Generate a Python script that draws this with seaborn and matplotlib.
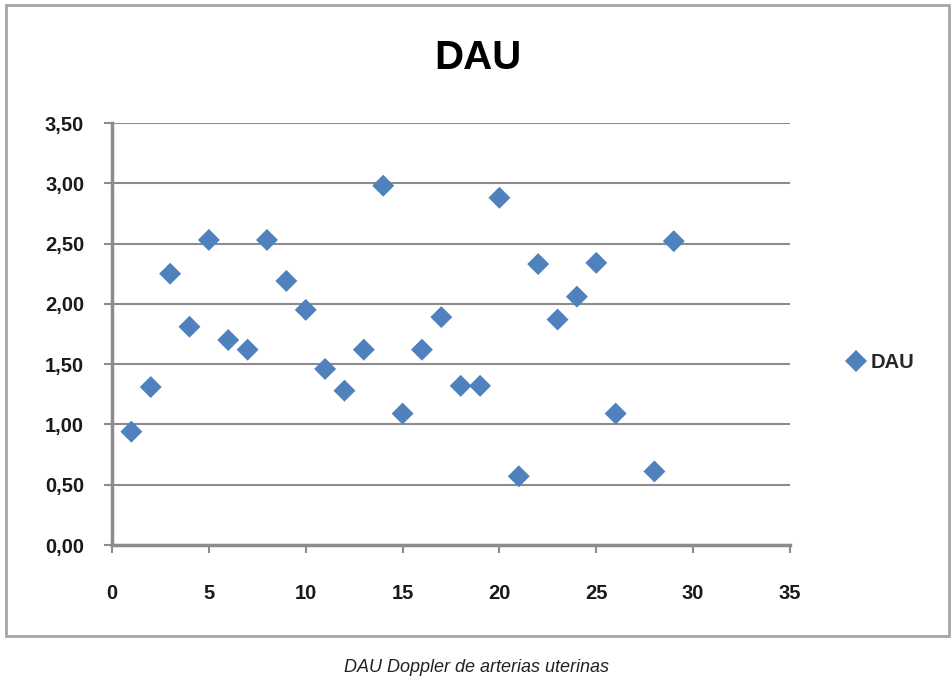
import matplotlib
matplotlib.use("Agg")
import matplotlib.pyplot as plt
import seaborn as sns
import pandas as pd
from matplotlib.patches import Rectangle
from matplotlib.ticker import FuncFormatter

# Data
x_vals = [1, 2, 3, 4, 5, 6, 7, 8, 9, 10, 11, 12, 13, 14, 15, 16, 17, 18, 19,
          20, 21, 22, 23, 24, 25, 26, 28, 29]
dau_vals = [0.94, 1.31, 2.25, 1.81, 2.53, 1.70, 1.62, 2.53, 2.19, 1.95, 1.46,
            1.28, 1.62, 2.98, 1.09, 1.62, 1.89, 1.32, 1.32,
            2.88, 0.57, 2.33, 1.87, 2.06, 2.34, 1.09, 0.61, 2.52]
series_name = "DAU"
title = "DAU"
caption = "DAU Doppler de arterias uterinas"
x_ticks = [0, 5, 10, 15, 20, 25, 30, 35]
y_ticks = [0.0, 0.5, 1.0, 1.5, 2.0, 2.5, 3.0, 3.5]

df = pd.DataFrame({"x": x_vals, "y": dau_vals, "serie": series_name})

sns.set_theme(style="white")
plt.rcParams["font.family"] = ["Liberation Sans", "DejaVu Sans"]

fig = plt.figure(figsize=(9.52, 6.87), dpi=100)
fig.patch.set_facecolor("white")

# outer chart border
fig.patches.append(Rectangle((6 / 952, 1 - 636 / 687), (949 - 6) / 952, (636 - 5) / 687,
                             transform=fig.transFigure, fill=False,
                             edgecolor="#a6a6a6", linewidth=2.0, zorder=0))

ax = fig.add_axes([112 / 952, 1 - 545 / 687, (790 - 112) / 952, (545 - 123) / 687])

sns.scatterplot(data=df, x="x", y="y", hue="serie", palette=["#4F81BD"],
                marker="D", s=125, linewidth=0, ax=ax, zorder=3)

ax.set_xlim(0, 35)
ax.set_ylim(0, 3.5)
ax.set_xticks(x_ticks)
ax.set_yticks(y_ticks)
ax.yaxis.set_major_formatter(FuncFormatter(lambda v, p: f"{v:.2f}".replace(".", ",")))
ax.xaxis.set_major_formatter(FuncFormatter(lambda v, p: f"{int(v)}"))

ax.grid(axis="y", color="#8c8c8c", linewidth=1.5)
ax.set_axisbelow(True)
for s in ["top", "right"]:
    ax.spines[s].set_visible(False)
for s in ["left", "bottom"]:
    ax.spines[s].set_color("#8c8c8c")
    ax.spines[s].set_linewidth(2.5)

ax.tick_params(axis="both", which="both", length=6, width=1.5, color="#8c8c8c",
               labelsize=14.5, labelcolor="#1a1a1a", bottom=True, left=True)
ax.tick_params(axis="x", pad=22, direction="out")
ax.tick_params(axis="y", pad=14, direction="out")
for lab in ax.get_xticklabels() + ax.get_yticklabels():
    lab.set_fontweight("bold")

ax.set_xlabel("")
ax.set_ylabel("")

fig.text(478 / 952, 1 - 58 / 687, title, ha="center", va="center",
         fontsize=29, fontweight="bold", color="black")

leg = ax.legend(loc="center left", bbox_to_anchor=(836 / 952, 1 - 363 / 687),
                bbox_transform=fig.transFigure, frameon=False,
                handletextpad=0.1, borderaxespad=0, handlelength=1.2,
                prop={"weight": "bold", "size": 14.5})
for h in leg.legend_handles:
    h.set_markersize(11)
    h.set_markeredgewidth(0)

fig.text(477 / 952, 1 - 668 / 687, caption, ha="center", va="center",
         fontsize=13, fontstyle="italic", color="#222222")

fig.savefig("out.png", dpi=100)
